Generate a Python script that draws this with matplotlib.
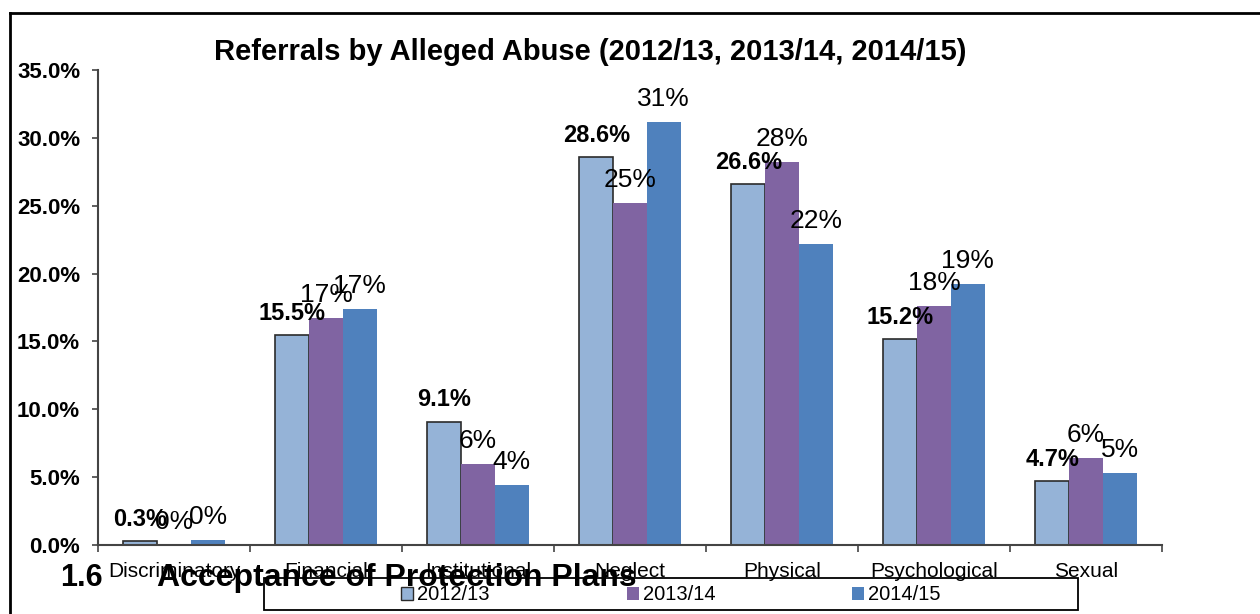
import matplotlib
matplotlib.use('Agg')
import matplotlib.pyplot as plt
import numpy as np
from matplotlib.patches import Patch, Rectangle
from matplotlib.lines import Line2D

plt.rcParams['font.family'] = ['Liberation Sans', 'DejaVu Sans']

# Datos (porcentajes)
categorias = ['Discriminatory', 'Financial', 'Institutional', 'Neglect',
              'Physical', 'Psychological', 'Sexual']
series = ['2012/13', '2013/14', '2014/15']
v_2012 = [0.3, 15.5, 9.1, 28.6, 26.6, 15.2, 4.7]
v_2013 = [0.0, 16.7, 6.0, 25.2, 28.2, 17.6, 6.4]
v_2014 = [0.4, 17.4, 4.4, 31.2, 22.2, 19.2, 5.3]
y_ticks = [0, 5, 10, 15, 20, 25, 30, 35]

colores = ['#95B3D7', '#8064A2', '#4F81BD']

fig = plt.figure(figsize=(12.6, 6.14), dpi=100)
ax = fig.add_axes([98 / 1260, 69 / 614, 1064 / 1260, 475 / 614])

x = np.arange(len(categorias))
ancho = 0.222

ax.bar(x - ancho, v_2012, ancho, color=colores[0], edgecolor='#2b2b2b', linewidth=1.2, zorder=2)
ax.bar(x, v_2013, ancho, color=colores[1], linewidth=0, zorder=2)
ax.bar(x + ancho, v_2014, ancho, color=colores[2], linewidth=0, zorder=2)

# Etiquetas de datos
for i in range(len(categorias)):
    ax.annotate(f'{v_2012[i]:.1f}%', (x[i] - ancho, v_2012[i]), xytext=(0, 10.8),
                textcoords='offset points', ha='center', va='baseline',
                fontsize=17, fontweight='bold', zorder=5)
    ax.annotate(f'{v_2013[i]:.0f}%', (x[i], v_2013[i]), xytext=(0, 11.5),
                textcoords='offset points', ha='center', va='baseline',
                fontsize=19, zorder=5)
    ax.annotate(f'{v_2014[i]:.0f}%', (x[i] + ancho, v_2014[i]), xytext=(0, 11.5),
                textcoords='offset points', ha='center', va='baseline',
                fontsize=19, zorder=5)

ax.set_xlim(-0.5, len(categorias) - 0.5)
ax.set_ylim(0, 35)
ax.set_yticks(y_ticks)
ax.set_yticklabels([f'{t:.1f}%' for t in y_ticks], fontsize=16, fontweight='bold')
ax.tick_params(axis='y', direction='out', length=4.3, width=1.2, pad=8.5, color='#444444')

ax.set_xticks(np.arange(len(categorias) + 1) - 0.5)
ax.set_xticklabels([])
ax.set_xticks(x, minor=True)
ax.set_xticklabels(categorias, minor=True, fontsize=15)
ax.tick_params(axis='x', which='major', direction='out', length=5, width=1.2, color='#444444')
ax.tick_params(axis='x', which='minor', length=0, pad=12)

for s in ['top', 'right']:
    ax.spines[s].set_visible(False)
for s in ['left', 'bottom']:
    ax.spines[s].set_linewidth(1.5)
    ax.spines[s].set_color('#444444')

fig.text(590 / 1260, 1 - 52 / 614, 'Referrals by Alleged Abuse (2012/13, 2013/14, 2014/15)',
         ha='center', va='center', fontsize=21, fontweight='bold')

# Marco exterior del grafico
fig.add_artist(Line2D([10 / 1260, 10 / 1260], [0, 1 - 13 / 614], color='black', lw=2))
fig.add_artist(Line2D([10 / 1260, 1], [1 - 13 / 614, 1 - 13 / 614], color='black', lw=2))

# Leyenda
fig.add_artist(Rectangle((264 / 1260, 4 / 614), 814 / 1260, 32 / 614,
                         transform=fig.transFigure, fill=False, edgecolor='black', lw=1.3))
handles = [Patch(facecolor=colores[0], edgecolor='#2b2b2b', lw=1),
           Patch(facecolor=colores[1], edgecolor='none'),
           Patch(facecolor=colores[2], edgecolor='none')]
fig.legend(handles, series, loc='center', bbox_to_anchor=(671 / 1260, 1 - 595 / 614),
           ncol=3, frameon=False, fontsize=14.5, handlelength=0.6, handleheight=0.6,
           handletextpad=0.2, columnspacing=6.8)

# Encabezado del documento superpuesto
fig.text(60 / 1260, 1 - 586 / 614, '1.6', ha='left', va='baseline',
         fontsize=22, fontweight='bold', zorder=10)
fig.text(157 / 1260, 1 - 586 / 614, 'Acceptance of Protection Plans', ha='left', va='baseline',
         fontsize=23, fontweight='bold', zorder=10)

fig.savefig('out.png', dpi=100)
